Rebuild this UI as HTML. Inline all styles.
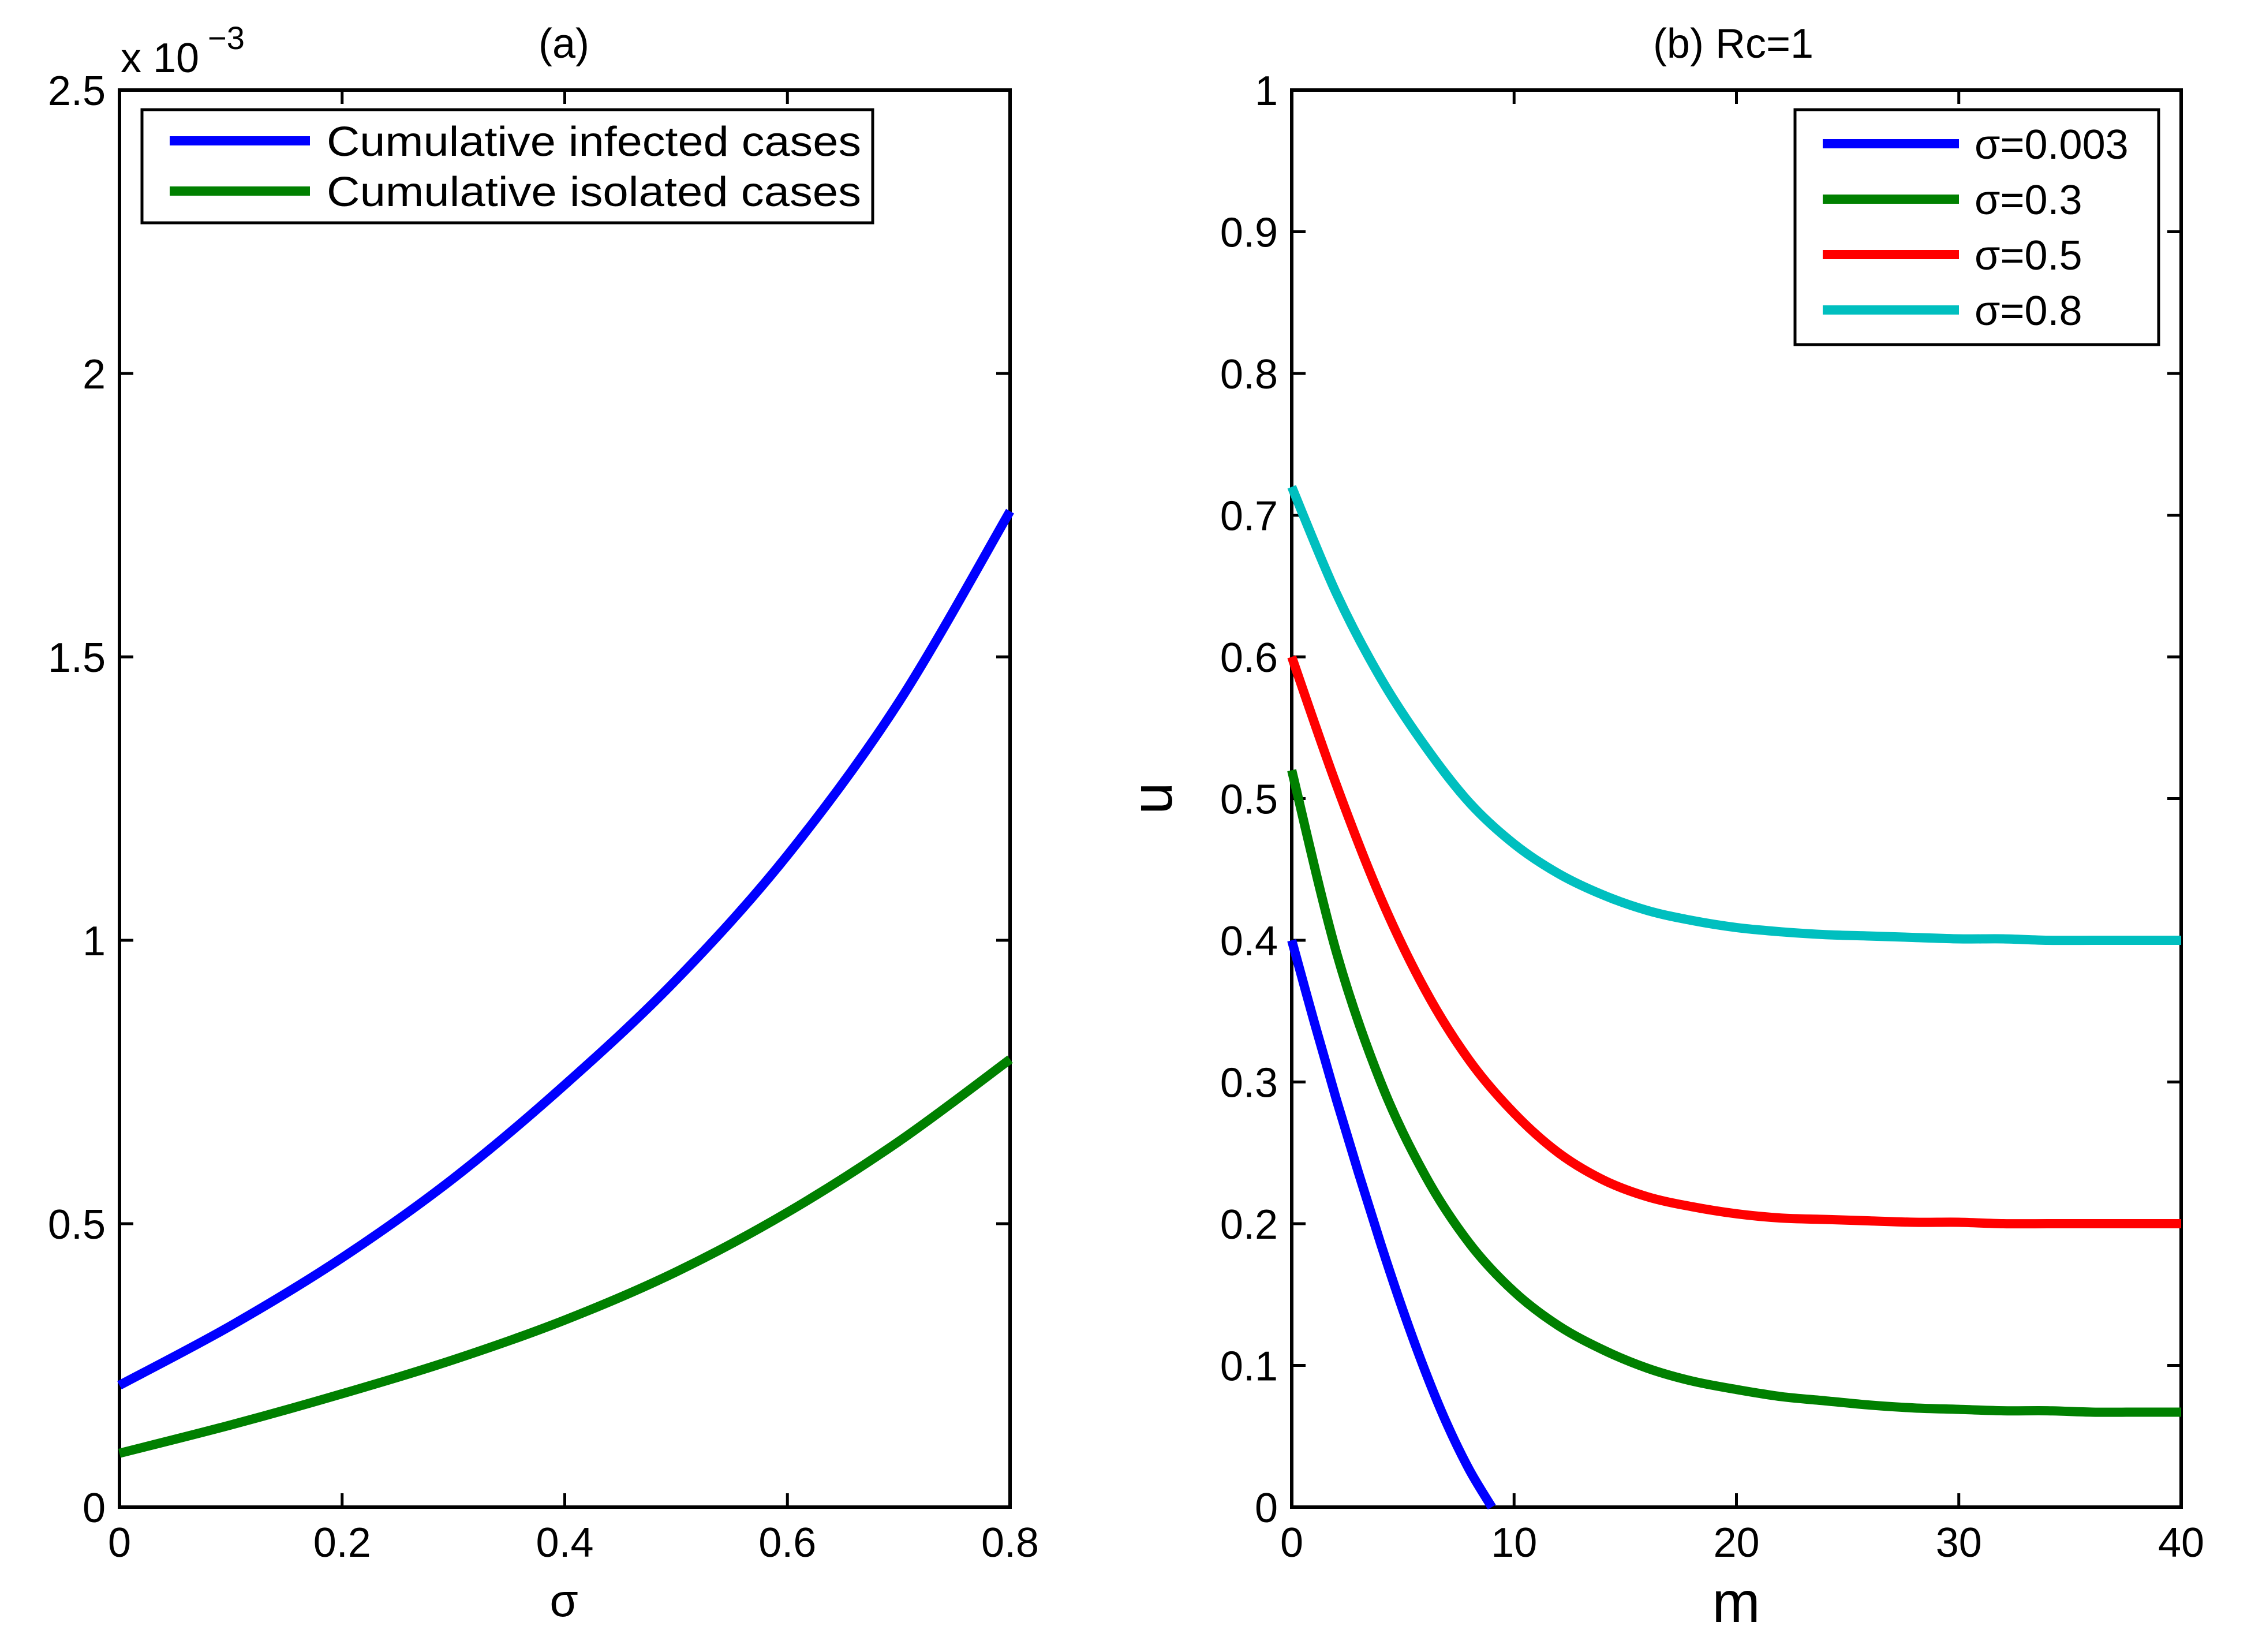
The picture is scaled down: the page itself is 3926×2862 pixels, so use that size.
<!DOCTYPE html>
<html><head><meta charset="utf-8"><style>
html,body{margin:0;padding:0;background:#fff}
svg{display:block}
text{font-family:"Liberation Sans",sans-serif;fill:#000}
</style></head><body>
<svg id="fig" width="3926" height="2862" viewBox="0 0 3926 2862" xmlns="http://www.w3.org/2000/svg"></svg>
<script>
// ---- Panel (a) data ----
const sigmaA = [0, 0.1, 0.2, 0.3, 0.4, 0.5, 0.6, 0.7, 0.8];
const infectedA = [0.215, 0.32, 0.44, 0.58, 0.745, 0.93, 1.15, 1.42, 1.757];
const isolatedA = [0.095, 0.145, 0.2, 0.26, 0.33, 0.415, 0.52, 0.645, 0.79];
const xTicksA = [0, 0.2, 0.4, 0.6, 0.8];
const xTickLabelsA = ["0", "0.2", "0.4", "0.6", "0.8"];
const yTicksA = [0, 0.5, 1, 1.5, 2, 2.5];
const yTickLabelsA = ["0", "0.5", "1", "1.5", "2", "2.5"];
// ---- Panel (b) data ----
const mBlue = [0, 1, 2, 3, 4, 5, 6, 7, 8, 9];
const uBlue = [0.4, 0.343, 0.288, 0.236, 0.186, 0.139, 0.096, 0.058, 0.026, 0];
const mOther = [0, 2, 4, 6, 8, 10, 12, 14, 16, 18, 20, 22, 24, 26, 28, 30, 32, 34, 36, 38, 40];
const uGreen = [0.52, 0.392, 0.3, 0.234, 0.186, 0.152, 0.128, 0.111, 0.098, 0.089, 0.083, 0.078, 0.075, 0.072, 0.07, 0.069, 0.068, 0.068, 0.067, 0.067, 0.067];
const uRed = [0.6, 0.51, 0.43, 0.365, 0.315, 0.278, 0.25, 0.231, 0.219, 0.212, 0.207, 0.204, 0.203, 0.202, 0.201, 0.201, 0.2, 0.2, 0.2, 0.2, 0.2];
const uCyan = [0.72, 0.645, 0.585, 0.537, 0.497, 0.468, 0.447, 0.432, 0.421, 0.414, 0.409, 0.406, 0.404, 0.403, 0.402, 0.401, 0.401, 0.4, 0.4, 0.4, 0.4];
const xTicksB = [0, 10, 20, 30, 40];
const xTickLabelsB = ["0", "10", "20", "30", "40"];
const yTicksB = [0, 0.1, 0.2, 0.3, 0.4, 0.5, 0.6, 0.7, 0.8, 0.9, 1];
const yTickLabelsB = ["0", "0.1", "0.2", "0.3", "0.4", "0.5", "0.6", "0.7", "0.8", "0.9", "1"];
const legendA = ["Cumulative infected cases", "Cumulative isolated cases"];
const legendB = ["σ=0.003", "σ=0.3", "σ=0.5", "σ=0.8"];

const NS = "http://www.w3.org/2000/svg";
const svg = document.getElementById('fig');
function el(tag, attrs, parent) {
  const e = document.createElementNS(NS, tag);
  for (const k in attrs) e.setAttribute(k, attrs[k]);
  (parent || svg).appendChild(e);
  return e;
}
const TOP = 156, BOT = 2611;
const A = {l: 207, r: 1750, xmin: 0, xmax: 0.8, ymin: 0, ymax: 2.5};
const B = {l: 2238, r: 3779, xmin: 0, xmax: 40, ymin: 0, ymax: 1};
function sx(p, v) { return p.l + (v - p.xmin) / (p.xmax - p.xmin) * (p.r - p.l); }
function sy(p, v) { return BOT - (v - p.ymin) / (p.ymax - p.ymin) * (BOT - TOP); }
function pathFor(p, xs, ys) {
  const pts = xs.map((x, i) => [sx(p, x), sy(p, ys[i])]);
  let d = "M" + pts[0][0].toFixed(1) + "," + pts[0][1].toFixed(1);
  for (let i = 0; i < pts.length - 1; i++) {
    const p0 = pts[Math.max(0, i - 1)], p1 = pts[i], p2 = pts[i + 1], p3 = pts[Math.min(pts.length - 1, i + 2)];
    const c1 = [p1[0] + (p2[0] - p0[0]) / 6, p1[1] + (p2[1] - p0[1]) / 6];
    const c2 = [p2[0] - (p3[0] - p1[0]) / 6, p2[1] - (p3[1] - p1[1]) / 6];
    d += " C" + c1[0].toFixed(1) + "," + c1[1].toFixed(1) + " " + c2[0].toFixed(1) + "," + c2[1].toFixed(1) + " " + p2[0].toFixed(1) + "," + p2[1].toFixed(1);
  }
  return d;
}
function axes(p, xt, xl, yt, yl, name) {
  const g = el('g', {});
  
  
  const frame = el('rect', {x: p.l, y: TOP, width: p.r - p.l, height: BOT - TOP, fill: 'none', stroke: '#000', 'stroke-width': 6}, g);
  
  
  xt.forEach((v, i) => {
    const x = sx(p, v);
    el('line', {x1: x, y1: BOT, x2: x, y2: BOT - 24, stroke: '#000', 'stroke-width': 5}, g);
    el('line', {x1: x, y1: TOP, x2: x, y2: TOP + 24, stroke: '#000', 'stroke-width': 5}, g);
    const t = el('text', {x: x, y: 2697, 'font-size': 72, 'text-anchor': 'middle'}, g);
    t.textContent = xl[i];
    
    
  });
  yt.forEach((v, i) => {
    const y = sy(p, v);
    el('line', {x1: p.l, y1: y, x2: p.l + 24, y2: y, stroke: '#000', 'stroke-width': 5}, g);
    el('line', {x1: p.r, y1: y, x2: p.r - 24, y2: y, stroke: '#000', 'stroke-width': 5}, g);
    const t = el('text', {x: p.l - 24, y: y + 26, 'font-size': 72, 'text-anchor': 'end'}, g);
    t.textContent = yl[i];
    
    
  });
}
axes(A, xTicksA, xTickLabelsA, yTicksA, yTickLabelsA, 'panel-a');
axes(B, xTicksB, xTickLabelsB, yTicksB, yTickLabelsB, 'panel-b');

function series(p, xs, ys, color, name) {
  const e = el('path', {d: pathFor(p, xs, ys), fill: 'none', stroke: color, 'stroke-width': 16, 'stroke-linejoin': 'round'});
  
  
}
series(A, sigmaA, isolatedA, '#008000', 'line-isolated-cases');
series(A, sigmaA, infectedA, '#0000ff', 'line-infected-cases');
series(B, mOther, uCyan, '#00bfbf', 'line-sigma-0.8');
series(B, mOther, uRed, '#ff0000', 'line-sigma-0.5');
series(B, mOther, uGreen, '#008000', 'line-sigma-0.3');
series(B, mBlue, uBlue, '#0000ff', 'line-sigma-0.003');

function txt(x, y, s, size, anchor, name, extra) {
  const t = el('text', Object.assign({x: x, y: y, 'font-size': size, 'text-anchor': anchor}, extra || {}));
  t.textContent = s;
  
  
  return t;
}
txt(977, 100, "(a)", 72, 'middle', 'panel-a-title');
txt(3003, 100, "(b) Rc=1", 72, 'middle', 'panel-b-title');
txt(209, 125, "x 10", 72, 'start', 'y-axis-exponent');
txt(360, 85, "−3", 56, 'start', 'y-axis-exponent-power');
txt(977, 2800, "σ", 80, 'middle', 'panel-a-x-axis-title');
txt(3008, 2810, "m", 100, 'middle', 'panel-b-x-axis-title');
txt(2030, 1383, "u", 100, 'middle', 'panel-b-y-axis-title', {transform: 'rotate(-90 2030 1383)'});

const colsA = ['#0000ff', '#008000'];
const lgA = el('g', {});


el('rect', {x: 246, y: 190, width: 1266, height: 196, fill: '#fff', stroke: '#000', 'stroke-width': 5}, lgA);
legendA.forEach((s, i) => {
  const y = 244 + i * 87;
  const ln = el('line', {x1: 294, y1: y, x2: 537, y2: y, stroke: colsA[i], 'stroke-width': 16}, lgA);
  
  
  const t = el('text', {x: 566, y: y + 26, 'font-size': 72, textLength: 926, lengthAdjust: 'spacingAndGlyphs'}, lgA);
  t.textContent = s;
  
  
});
const colsB = ['#0000ff', '#008000', '#ff0000', '#00bfbf'];
const lgB = el('g', {});


el('rect', {x: 3110, y: 190, width: 630, height: 407, fill: '#fff', stroke: '#000', 'stroke-width': 5}, lgB);
legendB.forEach((s, i) => {
  const y = 249 + i * 96;
  const ln = el('line', {x1: 3158, y1: y, x2: 3394, y2: y, stroke: colsB[i], 'stroke-width': 16}, lgB);
  
  
  const t = el('text', {x: 3421, y: y + 26, 'font-size': 72}, lgB);
  t.textContent = s;
  
  
});
</script>
</body></html>
